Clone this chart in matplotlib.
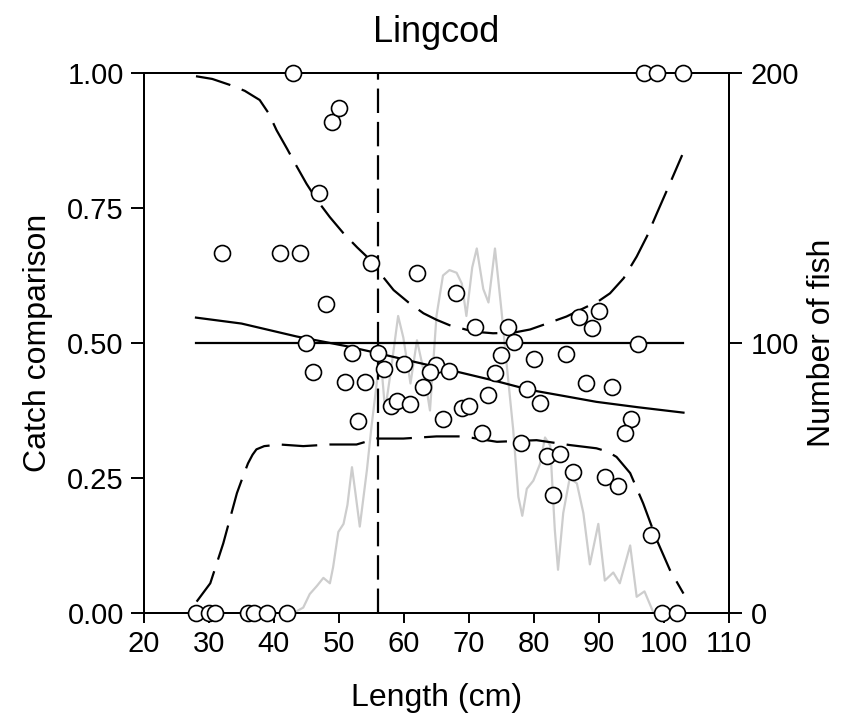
import matplotlib
matplotlib.use("Agg")
import matplotlib.pyplot as plt

plt.rcParams['font.family'] = ['Liberation Sans', 'DejaVu Sans']

# catch comparison per length class
len_obs = [43, 97, 99, 103,
           28, 30, 31, 36, 37, 39, 42, 99.7, 102,
           32, 41, 44, 46.9, 49, 50, 55, 62, 48, 45, 52, 56,
           46, 51, 54, 57, 60, 65, 64, 63, 58, 59, 61, 53, 66,
           68, 71, 76, 87, 90, 89, 77, 75, 80, 85, 67, 74, 79, 81,
           73, 69, 70, 72, 78, 82, 84, 86, 83,
           96, 88, 92, 95, 94, 91, 93, 98]
cc_obs = [1.0, 1.0, 1.0, 1.0,
          0.0, 0.0, 0.0, 0.0, 0.0, 0.0, 0.0, 0.0, 0.0,
          0.667, 0.667, 0.667, 0.778, 0.910, 0.936, 0.648, 0.629, 0.572, 0.500, 0.482, 0.482,
          0.446, 0.428, 0.428, 0.451, 0.462, 0.460, 0.446, 0.418, 0.383, 0.393, 0.387, 0.356, 0.359,
          0.592, 0.529, 0.530, 0.549, 0.560, 0.527, 0.501, 0.477, 0.471, 0.480, 0.448, 0.444, 0.414, 0.389,
          0.404, 0.379, 0.383, 0.334, 0.314, 0.291, 0.294, 0.262, 0.219,
          0.499, 0.425, 0.418, 0.360, 0.334, 0.251, 0.235, 0.144]

# fitted curve
len_fit = [28, 35, 43.5, 51.2, 56, 62, 68.1, 74, 79.4, 85, 89.6, 96, 103]
cc_fit = [0.547, 0.536, 0.512, 0.494, 0.481, 0.464, 0.447, 0.430, 0.413, 0.401, 0.391, 0.381, 0.371]

# confidence band
len_upper = [28, 30.5, 33.2, 35.5, 37.8, 39.2, 40.4, 42.0, 43.5, 45.0, 46.6, 48.6, 50.7,
             52.8, 54.8, 56.6, 58.4, 60.7, 63.0, 65.0, 67.0, 70.7, 73.7,
             76.8, 79.4, 82.0, 85.0, 88.1, 90.0, 91.7, 93.8, 95.8, 97.4, 98.9, 100.9, 102.8]
cc_upper = [0.994, 0.989, 0.978, 0.967, 0.950, 0.925, 0.894, 0.860, 0.827, 0.795, 0.765, 0.733, 0.703,
            0.677, 0.654, 0.625, 0.598, 0.575, 0.555, 0.543, 0.533, 0.521, 0.518,
            0.519, 0.525, 0.536, 0.549, 0.567, 0.578, 0.592, 0.620, 0.660, 0.698, 0.740, 0.795, 0.848]
len_lower = [28.1, 30.2, 32.2, 34.3, 35.3, 36.0, 36.7, 37.3, 38.5, 40.9, 44.5, 48.6, 52.7, 55.8,
             59.9, 65.0, 69.1, 74.3, 80.4, 85.5, 89.6, 91.3, 92.7, 94.8, 96.8, 98.9, 100.9, 103]
cc_lower = [0.021, 0.055, 0.129, 0.222, 0.255, 0.277, 0.293, 0.303, 0.309, 0.312, 0.309, 0.312,
            0.312, 0.323, 0.323, 0.327, 0.327, 0.317, 0.320, 0.311, 0.305, 0.299, 0.289, 0.259,
            0.203, 0.135, 0.080, 0.036]

# length frequency
len_freq = [43, 44.5, 45.5, 46.6, 47.6, 48.6, 49.1, 49.9, 50.7, 51.3, 52.0, 52.5, 53.2, 54.3,
            55.0, 55.8, 56.4, 57.1, 58.0, 59.1, 59.9, 61.0, 62.0, 63.0, 64.0, 65.0, 66.0,
            67.0, 68.1, 68.9, 69.6, 70.5, 71.2, 72.2, 73.0, 74.0, 75.0, 75.8, 76.8, 77.6,
            78.2, 78.9, 79.9, 80.9, 81.7, 82.5, 83.2, 83.7, 84.5, 85.5, 86.6, 87.6, 88.6,
            89.9, 90.9, 92.2, 93.2, 94.8, 95.8, 97.0, 98.4]
n_fish = [0, 2, 7, 10, 13, 11, 17, 30, 33, 40, 54, 45, 32, 53,
          69, 85, 95, 75, 90, 110, 102, 85, 101, 90, 75, 110, 125,
          127, 126, 122, 110, 128, 135, 120, 115, 135, 112, 92, 68, 43,
          36, 46, 49, 55, 65, 62, 31, 16, 37, 50, 48, 37, 18,
          33, 12, 15, 11, 25, 6, 8, 0]

l50 = 56
xticks = [20, 30, 40, 50, 60, 70, 80, 90, 100, 110]
yticks = [0, 0.25, 0.5, 0.75, 1.0]
yticklabels = ['0.00', '0.25', '0.50', '0.75', '1.00']
rticks = [0, 100, 200]

fig = plt.figure(figsize=(8.55, 7.22), dpi=100)
ax = fig.add_axes([0.1684, 0.151, 0.6842, 0.7479])
ax2 = ax.twinx()
ax.set_zorder(ax2.get_zorder() + 1)
ax.patch.set_visible(False)

ax2.plot(len_freq, n_fish, color='#cdcdcd', lw=1.6, solid_joinstyle='round')
ax2.set_ylim(0, 200)
ax2.set_yticks(rticks)

dash = (0, (16, 5.5))
ax.plot([28, 103], [0.5, 0.5], color='black', lw=1.6)
ax.plot(len_fit, cc_fit, color='black', lw=1.6)
ax.plot(len_upper, cc_upper, color='black', lw=1.6, linestyle=dash)
ax.plot(len_lower, cc_lower, color='black', lw=1.6, linestyle=dash)
ax.plot([l50, l50], [0, 1], color='black', lw=1.6, linestyle=(0, (11, 4)))
ax.plot(len_obs, cc_obs, 'o', ms=11.5, mfc='white', mec='black', mew=1.2,
        clip_on=False, zorder=5)

ax.set_xlim(20, 110)
ax.set_ylim(0, 1)
ax.set_xticks(xticks)
ax.set_yticks(yticks)
ax.set_yticklabels(yticklabels)

for a in (ax, ax2):
    for s in a.spines.values():
        s.set_linewidth(1.4)
ax.tick_params(axis='y', direction='out', length=9.5, width=1.4, labelsize=21, pad=5)
ax.tick_params(axis='x', direction='out', length=7, width=1.4, labelsize=21, pad=5)
ax2.tick_params(axis='y', direction='out', length=9.5, width=1.4, labelsize=21, pad=6)

ax.set_xlabel('Length (cm)', fontsize=23, labelpad=18)
ax.set_ylabel('Catch comparison', fontsize=23, labelpad=10)
ax2.set_ylabel('Number of fish', fontsize=23, labelpad=6)
ax.set_title('Lingcod', fontsize=26, pad=22)

fig.savefig('out.png', dpi=100)
